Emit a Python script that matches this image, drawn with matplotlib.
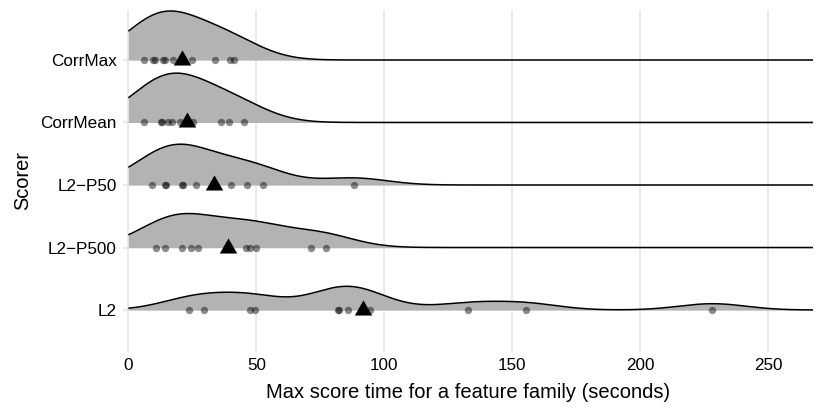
import numpy as np
import matplotlib
matplotlib.use("Agg")
import matplotlib.pyplot as plt

# ---- data ----
scorers = ["L2", "L2\u2212P500", "L2\u2212P50", "CorrMean", "CorrMax"]  # bottom -> top
times_L2 = [23.6, 29.5, 47.4, 49.4, 81.8, 82.5, 85.7, 94.4, 132.7, 155.2, 228.2]
times_L2_P500 = [11.0, 14.5, 20.8, 24.4, 27.3, 46.1, 47.4, 50.0, 71.2, 77.3]
times_L2_P50 = [9.1, 14.3, 14.9, 20.8, 21.4, 26.6, 40.3, 46.5, 52.6, 88.1]
times_CorrMean = [6.2, 12.6, 13.2, 15.6, 16.9, 20.0, 25.1, 36.1, 39.2, 45.2]
times_CorrMax = [6.1, 9.7, 10.4, 13.6, 14.3, 17.5, 24.7, 33.8, 39.6, 41.3]
x_ticks = [0, 50, 100, 150, 200, 250]

groups = [times_L2, times_L2_P500, times_L2_P50, times_CorrMean, times_CorrMax]

plt.rcParams['font.family'] = ['Liberation Sans', 'DejaVu Sans']


def bw_nrd0(x):
    x = np.asarray(x, float)
    sd = x.std(ddof=1)
    q75, q25 = np.percentile(x, [75, 25])
    lo = min(sd, (q75 - q25) / 1.34)
    return 0.9 * lo * len(x) ** (-0.2)


bw = np.mean([bw_nrd0(g) for g in groups])
allx = np.concatenate(groups)
xmax = allx.max() + 3 * bw
grid = np.linspace(0, xmax, 600)


def kde(x):
    x = np.asarray(x, float)
    z = (grid[:, None] - x[None, :]) / bw
    return np.exp(-0.5 * z ** 2).sum(axis=1) / (len(x) * bw * np.sqrt(2 * np.pi))


dens = [kde(g) for g in groups]
scale = 0.79 / max(d.max() for d in dens)

fig = plt.figure(figsize=(8.3, 4.15), dpi=100)
ax = fig.add_axes([122.7 / 830, 1 - 352 / 415, (813 - 122.7) / 830, (352 - 10) / 415])

for xv in x_ticks:
    ax.axvline(xv, color="#E6E6E6", lw=1.2, zorder=0)
for i in range(len(scorers)):
    ax.axhline(i, color="#E6E6E6", lw=1.2, zorder=0)

# draw from top to bottom so lower ridges overlay upper ones
for i in reversed(range(len(scorers))):
    y = i + dens[i] * scale
    z = 2 + (len(scorers) - i) * 3
    ax.fill_between(grid, i, y, color="#B3B3B3", lw=0, zorder=z)
    ax.plot(grid, y, color="black", lw=1.1, zorder=z + 1, solid_capstyle="butt")
    ax.plot(groups[i], np.full(len(groups[i]), i), "o", color="black", alpha=0.45,
            ms=5.3, mew=0, zorder=z + 2)

tri = [(0, 9.8), (-8.5, -4.9), (8.5, -4.9)]
for i in range(len(scorers)):
    ax.plot([np.mean(groups[i])], [i], marker=tri, color="black", ms=14.5, mew=0,
            ls="none", zorder=50)

ax.set_xlim(-2.2, 267.5)
ax.set_ylim(-0.672, 4.8)
ax.set_xticks(x_ticks)
ax.set_xticklabels([str(v) for v in x_ticks])
ax.set_yticks(range(len(scorers)))
ax.set_yticklabels(scorers)
ax.tick_params(axis="both", length=0, labelsize=12.3, colors="black")
ax.tick_params(axis="x", pad=4)
ax.tick_params(axis="y", pad=4.3)
for s in ax.spines.values():
    s.set_visible(False)

fig.text((122.7 + 813) / 2 / 830, 1 - 392 / 415,
         "Max score time for a feature family (seconds)", ha="center", va="center", fontsize=14.5)
fig.text(23 / 830, 1 - 180 / 415, "Scorer", ha="center", va="center", rotation=90, fontsize=14.4)

fig.savefig("out.png", dpi=100)
